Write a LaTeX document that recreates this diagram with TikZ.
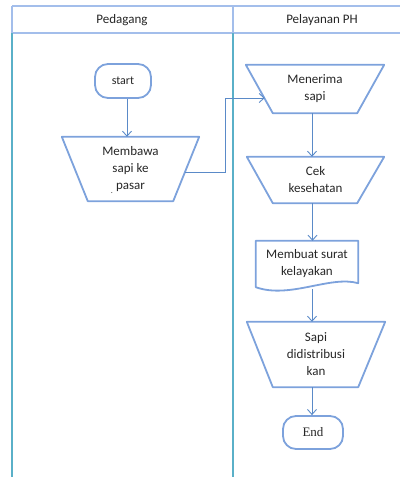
\documentclass[tikz,border=0pt]{standalone}
\usepackage{fontspec}
\setmainfont{Carlito}
\newfontfamily\serifface{Liberation Serif}
\usetikzlibrary{arrows.meta,calc}
\definecolor{blockcol}{HTML}{7DA2DC}
\definecolor{flowcol}{HTML}{5A8AC8}
\definecolor{lanecol}{HTML}{5AB0C8}
\definecolor{headcol}{HTML}{A3BEEB}
\definecolor{inkcol}{HTML}{262626}
\tikzset{
  lane/.style={draw=lanecol, line width=2pt},
  headline/.style={draw=headcol, line width=1.6pt},
  blockline/.style={draw=blockcol, line width=1.8pt, line join=round},
  boxarea/.style={draw=none, inner sep=0pt, align=center, text=inkcol,
    font=\fontsize{13}{17}\selectfont},
  terminal/.style={draw=blockcol, line width=1.8pt, rounded corners=13pt,
    inner sep=0pt, text=inkcol},
  flow/.style={draw=flowcol, line width=0.9pt,
    -{Straight Barb[length=5pt,width=9pt]}},
  lanetitle/.style={text=inkcol, font=\fontsize{13}{16}\selectfont}
}
\begin{document}
\begin{tikzpicture}[x=1pt,y=-1pt]
\useasboundingbox (0,0) rectangle (400,477);

% swimlane header and lane borders
\draw[headline] (12,6) -- (400,6);
\draw[headline] (12,33) -- (400,33);
\draw[headline] (12,6) -- (12,33);
\draw[headline] (233,6) -- (233,33);
\draw[lane] (12,33) -- (12,477);
\draw[lane] (233,33) -- (233,477);
\node[lanetitle] (lane1) at (122,20) {Pedagang};
\node[lanetitle] (lane2) at (322,20) {Pelayanan PH};

% terminals
\node[terminal, minimum width=56pt, minimum height=34pt,
      font=\fontsize{12}{14}\selectfont] (start) at (123,81) {start};
\node[terminal, minimum width=60pt, minimum height=33pt,
      font=\serifface\fontsize{13}{15}\selectfont] (stop) at (313,432.5) {End};

% manual-operation blocks (trapezia, wide side on top)
\node[boxarea, minimum width=137pt, minimum height=64pt] (membawa) at (130.5,169)
  {Membawa\\sapi ke\\pasar};
\draw[blockline] (membawa.north west) -- (membawa.north east)
  -- ([xshift=-26pt]membawa.south east) -- ([xshift=26pt]membawa.south west) -- cycle;
\node[font=\fontsize{8}{8}\selectfont, text=inkcol, inner sep=0pt] (dot) at (112,193) {.};

\node[boxarea, minimum width=138pt, minimum height=48pt] (menerima) at (315,89)
  {Menerima\\sapi};
\draw[blockline] (menerima.north west) -- (menerima.north east)
  -- ([xshift=-27pt]menerima.south east) -- ([xshift=27pt]menerima.south west) -- cycle;

\node[boxarea, minimum width=137pt, minimum height=46pt] (cek) at (315.5,180)
  {Cek\\kesehatan};
\draw[blockline] (cek.north west) -- (cek.north east)
  -- ([xshift=-27pt]cek.south east) -- ([xshift=26pt]cek.south west) -- cycle;

\node[boxarea, minimum width=138pt, minimum height=65pt] (sapi) at (316,354.5)
  {Sapi\\didistribusi\\kan};
\draw[blockline] (sapi.north west) -- (sapi.north east)
  -- ([xshift=-27pt]sapi.south east) -- ([xshift=26pt]sapi.south west) -- cycle;

% document block with wavy bottom edge
\node[boxarea, minimum width=102pt, minimum height=46pt] (membuat) at (307,264)
  {Membuat surat\\kelayakan};
\draw[blockline] (membuat.north west) -- (membuat.north east)
  -- ([yshift=4pt]membuat.south east)
  .. controls ([xshift=-28pt,yshift=12pt]membuat.south east)
  and ([xshift=34pt,yshift=-12pt]membuat.south west) .. (membuat.south west) -- cycle;

% connectors
\draw[flow] ([xshift=4pt]start.south) -- ([xshift=4pt]start.south |- membawa.north);
\draw[flow] ([xshift=-14pt,yshift=-3pt]membawa.east) -- ++(40pt,0)
  |- ([xshift=19pt,yshift=-9pt]menerima.west);
\draw[flow] ([xshift=-3pt]menerima.south) -- ([xshift=-3pt]menerima.south |- cek.north);
\draw[flow] ([xshift=-3pt]cek.south) -- ([xshift=-3pt]cek.south |- membuat.north);
\draw[flow] ([xshift=5pt,yshift=-2pt]membuat.south) -- ([xshift=5pt]membuat.south |- sapi.north);
\draw[flow] ([xshift=-4pt]sapi.south) -- ([xshift=-4pt]sapi.south |- stop.north);
\end{tikzpicture}
\end{document}
